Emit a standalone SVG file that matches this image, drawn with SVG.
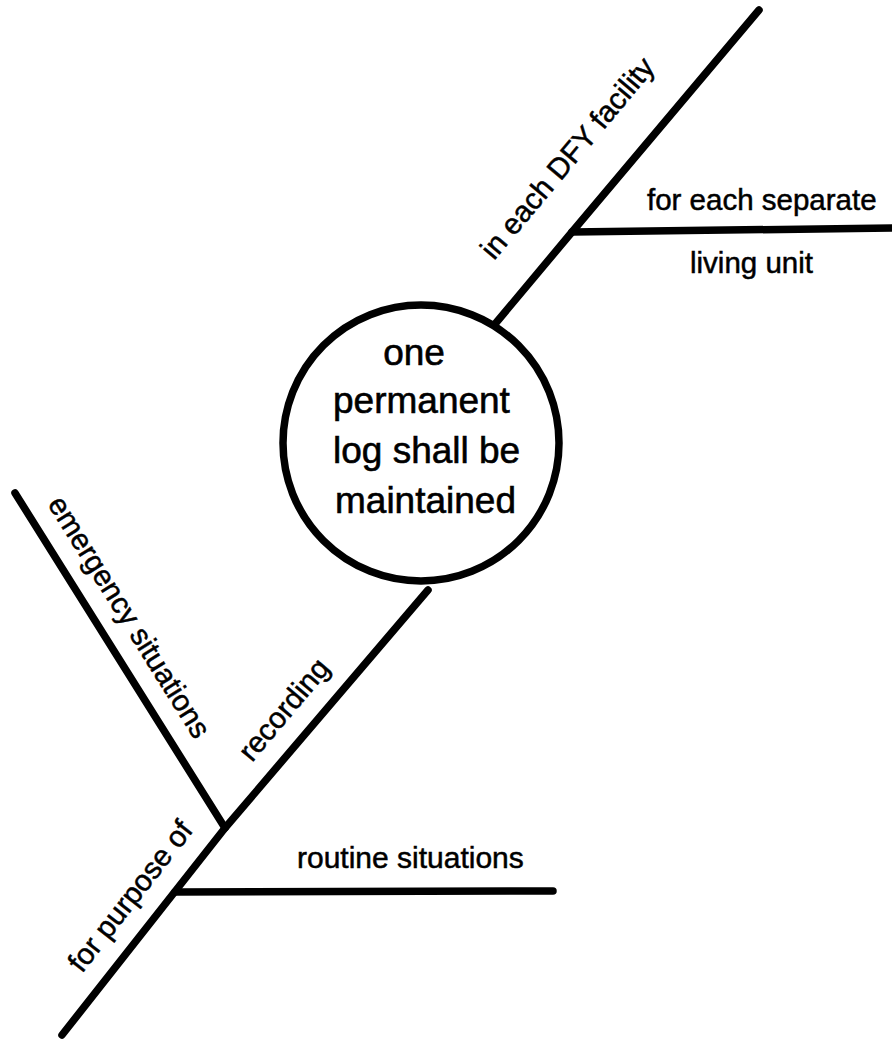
<svg xmlns="http://www.w3.org/2000/svg" width="892" height="1041" viewBox="0 0 892 1041">
<style>
.ln{stroke:#000;stroke-width:7.5;stroke-linecap:round;stroke-linejoin:round;fill:none}
.t{font-family:"Liberation Sans",Arial,sans-serif;fill:#000;stroke:#000;stroke-width:0.5;font-size:29.5px}
.c{font-family:"Liberation Sans",Arial,sans-serif;fill:#000;stroke:#000;stroke-width:0.6;font-size:37px}
</style>
<rect width="892" height="1041" fill="#fff"/>
<g id="connectors">
<polyline class="ln" points="759,10 572,232 490,330"/>
<line class="ln" x1="572" y1="232" x2="895" y2="228"/>
<polyline class="ln" points="428,590 225,828 62,1035"/>
<line class="ln" x1="15" y1="493" x2="225" y2="828"/>
<line class="ln" x1="175" y1="892" x2="553" y2="891"/>
</g>
<g id="main">
<circle cx="421" cy="443" r="138" fill="#fff" stroke="#000" stroke-width="7.5"/>
<text class="c" x="414" y="365" text-anchor="middle">one</text>
<text class="c" x="333" y="413">permanent</text>
<text class="c" x="333" y="463">log shall be</text>
<text class="c" x="335" y="513">maintained</text>
</g>
<g id="facility">
<text class="t" transform="translate(494,261) rotate(-50)">in each DFY facility</text>
</g>
<g id="separate">
<text class="t" x="647" y="210">for each separate</text>
<text class="t" x="690" y="273">living unit</text>
</g>
<g id="recording">
<text class="t" transform="translate(252,763) rotate(-50)">recording</text>
</g>
<g id="purpose">
<text class="t" transform="translate(82,974) rotate(-52)">for purpose of</text>
</g>
<g id="emergency">
<text class="t" transform="translate(47,504) rotate(58)">emergency situations</text>
</g>
<g id="routine">
<text class="t" x="297" y="868" style="font-size:30px">routine situations</text>
</g>
</svg>
